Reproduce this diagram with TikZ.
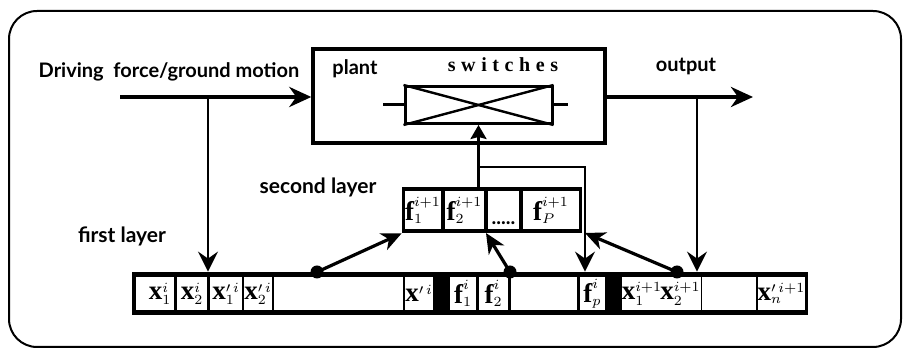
\documentclass[tikz,border=0pt]{standalone}
\usepackage{fontspec}
\setmainfont{Lato}
\newfontfamily\swfont[LetterSpace=28]{Liberation Serif}
\newfontfamily\cellserif{Liberation Serif}
\newcommand{\bl}[1]{\hbox{\fontsize{13.5}{14}\selectfont\cellserif\bfseries #1}}
\usetikzlibrary{arrows.meta}
\begin{document}
\begin{tikzpicture}[x=0.5pt,y=-0.5pt,
  lbl/.style={font=\fontsize{10}{12}\selectfont\bfseries, inner sep=0, anchor=base},
  box/.style={draw, line width=1.7pt, inner sep=0},
  bar/.style={fill=black, draw=none, inner sep=0},
  cell/.style={fill=white, draw=none, inner sep=0, font=\fontsize{9.5}{11}\selectfont},
  cellA/.style={cell, minimum height=16.5pt},
  cellB/.style={cell, minimum height=19pt},
  conn/.style={line width=1.2pt},
  thickarr/.style={line width=2pt, -{Stealth[length=11pt,width=10pt,inset=3.5pt]}},
  varr/.style={line width=1.2pt, -{Stealth[length=10pt,width=10pt,inset=3.5pt]}},
  darr/.style={line width=1.6pt, -{Stealth[length=10pt,width=9pt,inset=3pt]}},
  uarr/.style={line width=1.2pt, -{Stealth[length=7pt,width=8pt,inset=1pt]}},
  dotn/.style={circle, fill=black, inner sep=0, minimum size=6.5pt}]
\useasboundingbox (0,0) rectangle (904,351);
\draw[line width=1pt, rounded corners=14pt] (9,11) rectangle (901,347);

% texts
\node[lbl] (tdrive) at (169,78) {Driving\ \ force/ground motion};
\node[lbl] (tplant) at (355,75) {plant};
\node[lbl, font=\fontsize{10}{12}\selectfont\swfont\bfseries] (tsw) at (503,72) {switches};
\node[lbl] (tout) at (686,72) {output};
\node[lbl, font=\fontsize{10.5}{12}\selectfont\bfseries] (tsec) at (318,194) {second layer};
\node[lbl, font=\fontsize{10.5}{12}\selectfont\bfseries] (tfirst) at (122,243) {first layer};

% plant
\node[box, minimum width=146pt, minimum height=47pt] (plant) at (459,96) {};
\node[box, line width=1.5pt, minimum width=73.5pt, minimum height=18.5pt] (sw) at (478.5,105) {};
\draw[line width=1.2pt] (sw.north west) -- (sw.south east);
\draw[line width=1.2pt] (sw.south west) -- (sw.north east);
\coordinate (st1) at (383,105);
\coordinate (st2) at (568,105);
\draw[line width=1.5pt] (st1) -- (sw.west);
\draw[line width=1.5pt] (sw.east) -- (st2);

% first layer
\node[bar, minimum width=338pt, minimum height=21.5pt] (L) at (470,293.5) {};
\node[cellA, minimum width=19pt] (c1) at (155,293.5) {\hspace*{5pt}$\bl{x}^{i}_{1}$};
\node[cellA, minimum width=15pt] (c2) at (192,293.5) {$\bl{x}^{i}_{2}$};
\node[cellA, minimum width=16pt] (c3) at (226,293.5) {$\bl{x}^{\prime\,i}_{1}$};
\node[cellA, minimum width=13pt] (c4) at (258,293.5) {$\bl{x}^{\prime\,i}_{2}$};
\node[cellA, minimum width=64.5pt] (c5) at (338.5,293.5) {};
\node[cellA, minimum width=13pt] (c6) at (419,293.5) {$\bl{x}^{\prime\,i}$};
\node[cellA, minimum width=13pt] (c7) at (463,293.5) {$\bl{f}^{i}_{1}$};
\node[cellA, minimum width=14.5pt] (c8) at (493.5,293.5) {$\bl{f}^{i}_{2}$};
\node[cellA, minimum width=33pt] (c9) at (544,293.5) {};
\node[cellA, minimum width=12.5pt] (c10) at (592.5,293.5) {$\bl{f}^{i}_{p}$};
\node[cellA, minimum width=17pt] (c11) at (642,293.5) {$\bl{x}^{i+1}_{1}$};
\node[cellA, minimum width=18.5pt] (c12) at (680.5,293.5) {$\bl{x}^{i+1}_{2}$};
\node[cellA, minimum width=27pt] (c13) at (729,293.5) {};
\node[cellA, minimum width=22.5pt] (c14) at (781.5,293.5) {$\bl{x}^{\prime\,i+1}_{n}$};

% second layer
\node[bar, minimum width=90pt, minimum height=23pt] (S) at (492,210) {};
\node[cellB, minimum width=18pt] (g1) at (423,210) {$\bl{f}^{i+1}_{1}$};
\node[cellB, minimum width=19.5pt] (g2) at (464.5,210) {$\bl{f}^{i+1}_{2}$};
\node[cellB, minimum width=15.5pt] (g3) at (503.5,210) {};
\node[inner sep=0, anchor=base, font=\fontsize{10}{10}\selectfont\bfseries] (g3l) at (503.5,225) {.....};
\node[cellB, minimum width=28pt] (g4) at (551,210) {$\bl{f}^{i+1}_{P}$};

% connectors
\coordinate (din) at (120,97);
\coordinate (dout) at (753,97);
\draw[thickarr] (din) -- (din -| plant.west);
\draw[thickarr] (dout -| plant.east) -- (dout);
\coordinate (j1) at (208,97);
\coordinate (j2) at (697,97);
\draw[varr] (j1) -- (j1 |- L.north);
\draw[varr] (j2) -- (j2 |- L.north);

\draw[uarr] (sw.south |- S.north) -- (sw.south);
\coordinate (b1) at (478.5,167);
\coordinate (b2) at (585,167);
\draw[varr] (b1) -- (b2) -- (b2 |- L.north);

\node[dotn] (d1) at (317,272) {};
\node[dotn] (d2) at (510,272) {};
\node[dotn] (d3) at (677,272) {};
\coordinate (s2a) at (486,233);
\coordinate (s2b) at (585,233);
\draw[darr] (d1.center) -- (S.south west);
\draw[darr] (d2.center) -- (s2a);
\draw[darr] (d3.center) -- (s2b);
\end{tikzpicture}
\end{document}
